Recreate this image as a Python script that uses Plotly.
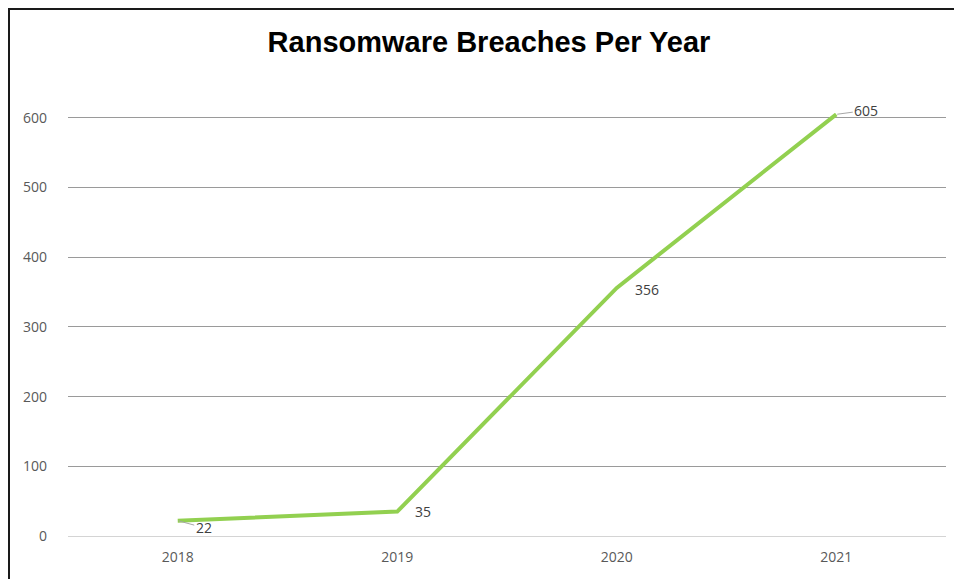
import plotly.graph_objects as go

# Chart data
years = ["2018", "2019", "2020", "2021"]
breaches = [22, 35, 356, 605]

# Label offsets (pixels) relative to each point and whether a leader line is drawn
label_dx = [26, 26, 30, 30]
label_dy = [7, 0, 2, -4]
label_leader = [True, False, False, True]

W, H = 954, 579
L, R, T, B = 68, 8, 83, 43
Y_MAX = 650

fig = go.Figure()
fig.add_trace(go.Scatter(
    x=years, y=breaches, mode="lines",
    line=dict(color="#92D050", width=4),
    hoverinfo="x+y",
))

label_font = dict(family="Open Sans, Arial", size=14, color="#404040")
annotations = []
for i, (val, dx, dy, lead) in enumerate(zip(breaches, label_dx, label_dy, label_leader)):
    # category axis: annotation x given as the category index
    if lead:
        annotations.append(dict(
            x=i, y=val, xref="x", yref="y", text=str(val),
            showarrow=True, arrowhead=0, arrowwidth=1, arrowcolor="#A6A6A6",
            ax=dx, ay=dy, standoff=1, font=label_font,
        ))
    else:
        annotations.append(dict(
            x=i, y=val, xref="x", yref="y", text=str(val), showarrow=False,
            xshift=dx, yshift=-dy, font=label_font,
        ))

pw = W - L - R
ph = H - T - B


def px_x(px):
    return (px - L) / pw


def px_y(py):
    return (H - B - py) / ph


shapes = [
    # frame: left and top edges
    dict(type="line", xref="paper", yref="paper",
         x0=px_x(9), x1=px_x(9), y0=px_y(9), y1=px_y(H + 2),
         line=dict(color="#1a1a1a", width=2)),
    dict(type="line", xref="paper", yref="paper",
         x0=px_x(8), x1=px_x(W + 2), y0=px_y(9), y1=px_y(9),
         line=dict(color="#1a1a1a", width=2)),
]

fig.update_layout(
    width=W, height=H,
    margin=dict(l=L, r=R, t=T, b=B),
    paper_bgcolor="white", plot_bgcolor="white",
    showlegend=False,
    title=dict(
        text="<b>Ransomware Breaches Per Year</b>",
        x=px_x(489), xref="paper", xanchor="center",
        y=1 - 42 / H, yref="container", yanchor="middle",
        font=dict(family="Liberation Sans, Arial", size=29, color="#000000"),
    ),
    xaxis=dict(
        type="category", range=[-0.5, 3.5],
        showgrid=False, showline=False, zeroline=False,
        ticks="", ticklabelstandoff=11,
        tickfont=dict(family="Open Sans, Arial", size=14, color="#595959"),
    ),
    yaxis=dict(
        range=[0, Y_MAX], tickvals=[0, 100, 200, 300, 400, 500, 600],
        showgrid=True, gridcolor="#9A9A9A", gridwidth=1,
        zeroline=True, zerolinecolor="#D4D4D4", zerolinewidth=1,
        showline=False, ticks="", ticklabelstandoff=20,
        tickfont=dict(family="Open Sans, Arial", size=14, color="#595959"),
    ),
    annotations=annotations,
    shapes=shapes,
)

fig.write_html("out.html")
